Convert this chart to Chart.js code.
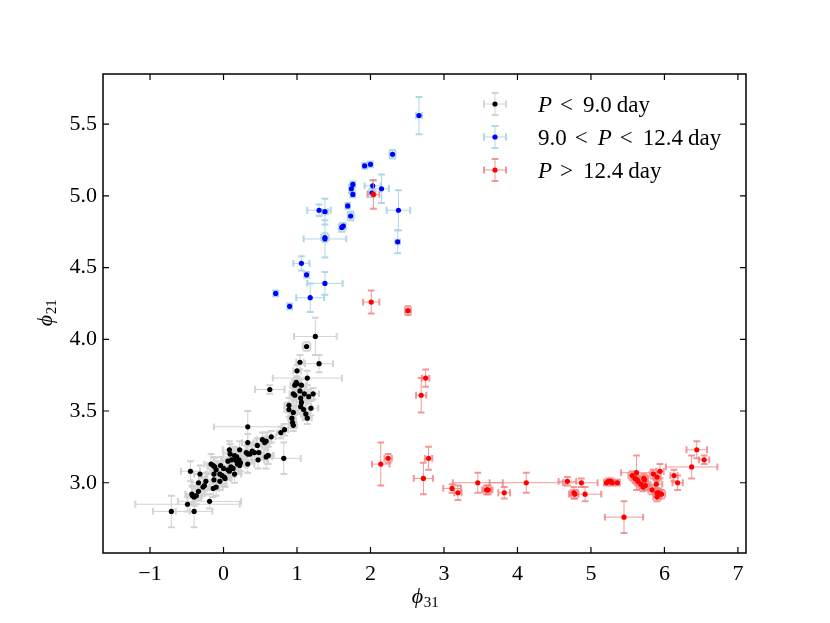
<!DOCTYPE html>
<html>
<head>
<meta charset="utf-8">
<script src="https://cdn.jsdelivr.net/npm/chart.js@4.4.1/dist/chart.umd.min.js"></script>
<style>
html, body { margin: 0; padding: 0; background: #fff; }
</style>
</head>
<body>
<canvas id="chart" width="830" height="623"></canvas>
<script>
// phi31 / phi21 values
var shortX = [1.25, 1.13, 1.30, 1.04, 1.00, 1.14, 0.99, 1.00, 0.97, 1.06, 0.63, 0.95, 0.97, 1.04, 1.10, 1.05, 1.16, 1.22, 1.06, 0.89,
              1.05, 1.19, 0.89, 1.09, 0.95, 1.12, 1.14, 0.93, 0.94, 0.95, 0.83, 0.78, 0.33, 0.65, 0.53, 0.58, 0.56, 0.33, 0.46, 0.22,
              0.39, 0.48, 0.36, 0.33, 0.31, 0.61, 0.58, 0.47, 0.82, 0.33, 0.09, 0.11, 0.16, 0.18, 0.22, 0.21, 0.13, 0.10, 0.06, 0.08,
              0.15, -0.05, -0.02, 0.01, 0.02, -0.05, -0.13, -0.10, -0.17, -0.14, -0.12, -0.13, -0.14, -0.24, -0.26, -0.28, -0.34, -0.32, -0.45, -0.34,
              -0.37, -0.40, -0.42, -0.43, -0.19, -0.49, -0.40, -0.71, 0.08, 0.15, 0.18, 0.23, 0.19, 0.06, -0.04, 0.00, -0.10, 0.60, 0.42];
var shortY = [4.02, 3.95, 3.83, 3.84, 3.78, 3.73, 3.70, 3.69, 3.68, 3.68, 3.65, 3.62, 3.61, 3.64, 3.62, 3.59, 3.60, 3.62, 3.56, 3.54,
              3.53, 3.52, 3.51, 3.51, 3.49, 3.48, 3.45, 3.45, 3.42, 3.40, 3.37, 3.35, 3.39, 3.32, 3.30, 3.29, 3.28, 3.28, 3.26, 3.23,
              3.22, 3.21, 3.20, 3.20, 3.21, 3.19, 3.18, 3.16, 3.17, 3.13, 3.20, 3.16, 3.16, 3.15, 3.12, 3.16, 3.10, 3.11, 3.09, 3.08,
              3.06, 3.06, 3.05, 3.04, 3.03, 3.01, 3.06, 3.09, 3.13, 3.12, 3.11, 3.02, 2.96, 3.01, 2.98, 2.97, 3.00, 3.06, 3.08, 2.94,
              2.91, 2.90, 2.91, 2.92, 2.87, 2.85, 2.80, 2.80, 3.23, 3.19, 3.18, 3.14, 3.13, 3.15, 3.12, 3.10, 2.97, 3.19, 3.21];
var shortXErr = [0.29, 0.05, 0.19, 0.05, 0.05, 0.47, 0.05, 0.05, 0.06, 0.06, 0.20, 0.05, 0.05, 0.06, 0.08, 0.07, 0.07, 0.08, 0.07, 0.06,
                 0.07, 0.10, 0.06, 0.07, 0.05, 0.06, 0.06, 0.05, 0.05, 0.05, 0.05, 0.05, 0.46, 0.06, 0.08, 0.07, 0.06, 0.08, 0.07, 0.09,
                 0.08, 0.07, 0.08, 0.09, 0.08, 0.07, 0.08, 0.08, 0.23, 0.09, 0.09, 0.08, 0.08, 0.09, 0.08, 0.09, 0.08, 0.09, 0.09, 0.08,
                 0.09, 0.09, 0.08, 0.09, 0.08, 0.09, 0.09, 0.08, 0.09, 0.08, 0.09, 0.09, 0.08, 0.09, 0.08, 0.09, 0.09, 0.08, 0.13, 0.09,
                 0.08, 0.09, 0.08, 0.09, 0.43, 0.71, 0.25, 0.25, 0.09, 0.08, 0.09, 0.08, 0.09, 0.08, 0.09, 0.08, 0.09, 0.08, 0.09];
var shortYErr = [0.13, 0.03, 0.06, 0.05, 0.04, 0.05, 0.04, 0.04, 0.04, 0.04, 0.03, 0.04, 0.04, 0.05, 0.05, 0.05, 0.05, 0.04, 0.05, 0.05,
                 0.05, 0.05, 0.05, 0.05, 0.04, 0.04, 0.04, 0.04, 0.04, 0.04, 0.04, 0.04, 0.11, 0.04, 0.05, 0.06, 0.04, 0.06, 0.05, 0.06,
                 0.06, 0.05, 0.06, 0.06, 0.05, 0.06, 0.08, 0.06, 0.11, 0.06, 0.07, 0.06, 0.06, 0.06, 0.06, 0.07, 0.06, 0.06, 0.07, 0.06,
                 0.06, 0.06, 0.06, 0.06, 0.06, 0.06, 0.06, 0.06, 0.07, 0.06, 0.06, 0.06, 0.06, 0.06, 0.06, 0.06, 0.06, 0.06, 0.07, 0.06,
                 0.06, 0.06, 0.06, 0.06, 0.05, 0.05, 0.11, 0.11, 0.06, 0.06, 0.06, 0.06, 0.06, 0.06, 0.06, 0.06, 0.06, 0.06, 0.06];

var midX = [2.66, 2.30, 2.00, 1.92, 2.03, 2.15, 2.02, 1.76, 1.74, 1.76, 1.69, 1.73, 2.38, 1.30, 1.38, 1.63, 1.61, 1.38, 1.38, 2.37,
            1.06, 1.13, 1.38, 1.18, 0.71, 0.90];
var midY = [5.56, 5.29, 5.22, 5.21, 5.07, 5.05, 5.02, 5.08, 5.05, 5.01, 4.93, 4.86, 4.90, 4.90, 4.89, 4.79, 4.78, 4.70, 4.71, 4.68,
            4.53, 4.45, 4.39, 4.29, 4.32, 4.23];
var midXErr = [0.04, 0.04, 0.03, 0.03, 0.11, 0.10, 0.05, 0.03, 0.03, 0.03, 0.03, 0.04, 0.16, 0.16, 0.04, 0.03, 0.04, 0.29, 0.05, 0.03,
               0.11, 0.03, 0.24, 0.19, 0.03, 0.03];
var midYErr = [0.13, 0.03, 0.02, 0.02, 0.04, 0.10, 0.03, 0.02, 0.03, 0.02, 0.02, 0.03, 0.14, 0.04, 0.09, 0.02, 0.03, 0.13, 0.03, 0.08,
               0.05, 0.02, 0.08, 0.10, 0.02, 0.02];

var longX = [2.04, 2.01, 2.51, 2.75, 2.69, 2.14, 2.24, 2.79, 2.72, 3.11, 3.19, 3.46, 3.58, 3.60, 3.82, 4.12, 4.68, 4.87, 4.77, 4.78,
             4.92, 5.21, 5.24, 5.27, 5.29, 5.36, 5.45, 5.62, 5.56, 5.60, 5.63, 5.64, 5.72, 5.73, 5.74, 5.68, 5.71, 5.83, 5.85, 5.90,
             5.94, 5.89, 5.92, 5.96, 5.90, 5.90, 6.13, 6.18, 6.37, 6.44, 6.54];
var longY = [5.01, 4.26, 4.20, 3.73, 3.61, 3.13, 3.17, 3.17, 3.03, 2.96, 2.93, 3.00, 2.95, 2.95, 2.93, 3.00, 3.01, 3.00, 2.93, 2.92,
             2.92, 3.00, 3.01, 3.01, 3.00, 3.00, 2.76, 3.07, 3.05, 3.03, 3.02, 3.01, 3.03, 3.02, 2.98, 2.99, 2.97, 2.95, 3.06, 3.04,
             3.08, 2.99, 2.93, 2.92, 2.90, 2.93, 3.05, 3.00, 3.11, 3.23, 3.16];
var longXErr = [0.08, 0.11, 0.04, 0.05, 0.07, 0.12, 0.05, 0.05, 0.13, 0.12, 0.05, 0.34, 0.06, 0.06, 0.08, 0.50, 0.12, 0.22, 0.05, 0.05,
                0.22, 0.03, 0.03, 0.03, 0.03, 0.03, 0.26, 0.21, 0.05, 0.05, 0.05, 0.05, 0.05, 0.05, 0.05, 0.05, 0.05, 0.05, 0.05, 0.05,
                0.05, 0.08, 0.05, 0.05, 0.05, 0.05, 0.05, 0.07, 0.35, 0.14, 0.07];
var longYErr = [0.10, 0.08, 0.03, 0.06, 0.12, 0.15, 0.03, 0.08, 0.11, 0.03, 0.05, 0.07, 0.03, 0.03, 0.04, 0.07, 0.03, 0.03, 0.04, 0.03,
                0.05, 0.02, 0.02, 0.02, 0.02, 0.02, 0.11, 0.12, 0.03, 0.03, 0.03, 0.03, 0.03, 0.03, 0.03, 0.03, 0.03, 0.03, 0.03, 0.03,
                0.05, 0.03, 0.03, 0.03, 0.03, 0.03, 0.04, 0.05, 0.08, 0.06, 0.03];

var xTicks = [-1, 0, 1, 2, 3, 4, 5, 6, 7];
var yTicks = [3.0, 3.5, 4.0, 4.5, 5.0, 5.5];

var FONT = "'Liberation Serif', 'DejaVu Serif', serif";

function makePoints(xs, ys, xe, ye) {
    return xs.map(function(x, i) {
        return { x: x, y: ys[i], xe: xe[i], ye: ye[i] };
    });
}

// Draw one error-bar cross with caps
function drawCross(ctx, px, x0, x1, py, y0, y1) {
    var cap = 3.4;
    ctx.beginPath();
    ctx.moveTo(x0, py); ctx.lineTo(x1, py);
    ctx.moveTo(px, y0); ctx.lineTo(px, y1);
    ctx.stroke();
    ctx.save();
    ctx.lineWidth = 2;
    ctx.beginPath();
    ctx.moveTo(x0, py - cap); ctx.lineTo(x0, py + cap);
    ctx.moveTo(x1, py - cap); ctx.lineTo(x1, py + cap);
    ctx.moveTo(px - cap, y0); ctx.lineTo(px + cap, y0);
    ctx.moveTo(px - cap, y1); ctx.lineTo(px + cap, y1);
    ctx.stroke();
    ctx.restore();
}

var errorBars = {
    id: 'errorBars',
    beforeDatasetDraw: function(chart, args) {
        var ds = chart.data.datasets[args.index];
        var xs = chart.scales.x, ys = chart.scales.y;
        var ctx = chart.ctx;
        ctx.save();
        ctx.strokeStyle = ds.errColor;
        ctx.lineWidth = 1.0;
        ds.data.forEach(function(p) {
            drawCross(ctx,
                xs.getPixelForValue(p.x), xs.getPixelForValue(p.x - p.xe), xs.getPixelForValue(p.x + p.xe),
                ys.getPixelForValue(p.y), ys.getPixelForValue(p.y - p.ye), ys.getPixelForValue(p.y + p.ye));
        });
        ctx.restore();
    }
};

// Frame, inward ticks, axis titles and legend
var decorations = {
    id: 'decorations',
    afterDraw: function(chart) {
        var ctx = chart.ctx, a = chart.chartArea;
        var xs = chart.scales.x, ys = chart.scales.y;
        var tl = 6;
        ctx.save();
        ctx.strokeStyle = '#000';
        ctx.lineWidth = 1.5;
        ctx.strokeRect(a.left, a.top, a.right - a.left, a.bottom - a.top);
        ctx.lineWidth = 1.2;
        ctx.beginPath();
        xTicks.forEach(function(v) {
            var px = xs.getPixelForValue(v);
            ctx.moveTo(px, a.bottom); ctx.lineTo(px, a.bottom - tl);
            ctx.moveTo(px, a.top); ctx.lineTo(px, a.top + tl);
        });
        yTicks.forEach(function(v) {
            var py = ys.getPixelForValue(v);
            ctx.moveTo(a.left, py); ctx.lineTo(a.left + tl, py);
            ctx.moveTo(a.right, py); ctx.lineTo(a.right - tl, py);
        });
        ctx.stroke();

        // axis titles
        ctx.fillStyle = '#000';
        ctx.textBaseline = 'alphabetic';
        function phiLabel(sub) {
            ctx.font = 'italic 22px ' + FONT;
            var w1 = ctx.measureText('\u03D5').width;
            ctx.font = '15px ' + FONT;
            var w2 = ctx.measureText(sub).width;
            var x0 = -(w1 + w2) / 2;
            ctx.font = 'italic 22px ' + FONT;
            ctx.fillText('\u03D5', x0, 0);
            ctx.font = '15px ' + FONT;
            ctx.fillText(sub, x0 + w1 + 0.5, 4);
        }
        ctx.save();
        ctx.translate(425, 603);
        phiLabel('31');
        ctx.restore();
        ctx.save();
        ctx.translate(52, 313);
        ctx.rotate(-Math.PI / 2);
        phiLabel('21');
        ctx.restore();

        // legend: [style, text, gap after]
        var rows = [
            { y: 104, dot: '#000000', err: '#d3d3d3',
              parts: [['i', 'P', 8], ['n', '<', 10], ['n', '9.0', 5], ['n', 'day', 0]] },
            { y: 137, dot: '#0000ff', err: '#add8e6',
              parts: [['n', '9.0', 8], ['n', '<', 10], ['i', 'P', 8], ['n', '<', 10], ['n', '12.4', 5], ['n', 'day', 0]] },
            { y: 170, dot: '#ff0000', err: 'rgba(240,128,128,0.8)',
              parts: [['i', 'P', 8], ['n', '>', 10], ['n', '12.4', 5], ['n', 'day', 0]] }
        ];
        rows.forEach(function(r) {
            ctx.strokeStyle = r.err;
            ctx.lineWidth = 1.0;
            drawCross(ctx, 495, 484, 506, r.y, r.y + 11, r.y - 11);
            ctx.fillStyle = r.dot;
            ctx.beginPath();
            ctx.arc(495, r.y, 2.6, 0, Math.PI * 2);
            ctx.fill();
            ctx.fillStyle = '#000';
            var x = 538;
            r.parts.forEach(function(p) {
                ctx.font = (p[0] === 'i' ? 'italic ' : '') + '23px ' + FONT;
                ctx.fillText(p[1], x, r.y + 8);
                x += ctx.measureText(p[1]).width + p[2];
            });
        });
        ctx.restore();
    }
};

var ctx = document.getElementById('chart').getContext('2d');
var chart = new Chart(ctx, {
    type: 'scatter',
    data: {
        datasets: [
            {
                label: 'P < 9.0 day',
                data: makePoints(shortX, shortY, shortXErr, shortYErr),
                backgroundColor: '#000000',
                errColor: '#d3d3d3',
                pointRadius: 2.6,
                borderWidth: 0,
                order: 3
            },
            {
                label: '9.0 < P < 12.4 day',
                data: makePoints(midX, midY, midXErr, midYErr),
                backgroundColor: '#0000ff',
                errColor: '#add8e6',
                pointRadius: 2.6,
                borderWidth: 0,
                order: 2
            },
            {
                label: 'P > 12.4 day',
                data: makePoints(longX, longY, longXErr, longYErr),
                backgroundColor: '#ff0000',
                errColor: 'rgba(240,128,128,0.8)',
                pointRadius: 2.6,
                borderWidth: 0,
                order: 1
            }
        ]
    },
    options: {
        responsive: false,
        animation: false,
        layout: { padding: { left: 0, top: 74, right: 84, bottom: 0 } },
        plugins: {
            legend: { display: false },
            tooltip: { enabled: false }
        },
        scales: {
            x: {
                type: 'linear',
                min: -1.64,
                max: 7.11,
                grid: { display: false, drawTicks: false },
                border: { display: false },
                afterBuildTicks: function(scale) {
                    scale.ticks = xTicks.map(function(v) { return { value: v }; });
                },
                afterFit: function(scale) { scale.height = 70; },
                ticks: {
                    color: '#000',
                    padding: 8,
                    maxRotation: 0,
                    font: { family: FONT, size: 22 },
                    callback: function(v) { return v < 0 ? '\u2212' + Math.abs(v) : String(v); }
                }
            },
            y: {
                type: 'linear',
                min: 2.51,
                max: 5.85,
                grid: { display: false, drawTicks: false },
                border: { display: false },
                afterBuildTicks: function(scale) {
                    scale.ticks = yTicks.map(function(v) { return { value: v }; });
                },
                afterFit: function(scale) { scale.width = 103; },
                ticks: {
                    color: '#000',
                    padding: 6,
                    font: { family: FONT, size: 22 },
                    callback: function(v) { return v.toFixed(1); }
                }
            }
        }
    },
    plugins: [errorBars, decorations]
});
</script>
</body>
</html>
